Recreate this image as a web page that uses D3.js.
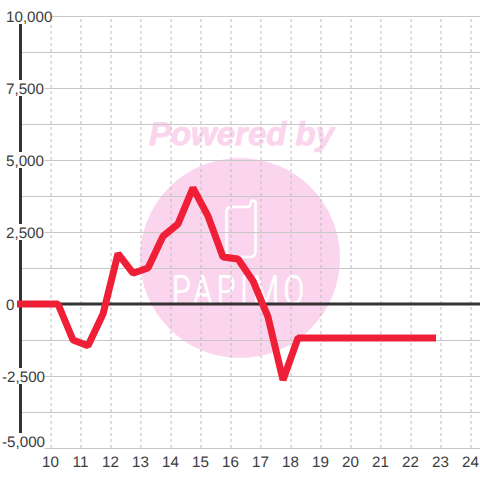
<!DOCTYPE html>
<html>
<head>
<meta charset="utf-8">
<script src="https://cdn.jsdelivr.net/npm/d3@7"></script>
<style>
  html, body { margin: 0; padding: 0; background: #fff; }
  svg { display: block; font-family: "Liberation Sans", sans-serif; text-rendering: geometricPrecision; }
  .grid line { stroke: #c8c8c8; stroke-width: 1.2; }
  .grid path { display: none; }
  .vgrid line { stroke: #bdbdbd; stroke-width: 1; stroke-dasharray: 3 3; }
  .vgrid path { display: none; }
</style>
</head>
<body>
<svg width="480" height="480"></svg>
<script>
var hours = [8.75, 9.25, 9.75, 10.25, 10.75, 11.25, 11.75, 12.25, 12.75, 13.25, 13.75, 14.25, 14.75, 15.25, 15.75, 16.25, 16.75, 17.25, 17.75, 18.25, 18.75, 19.25, 19.75, 20.25, 20.75, 21.25, 21.75, 22.25, 22.85];
var values = [0, 0, 0, 0, -1250, -1450, -350, 1750, 1070, 1250, 2350, 2780, 4030, 3050, 1630, 1560, 800, -450, -2640, -1180, -1180, -1180, -1180, -1180, -1180, -1180, -1180, -1180, -1180];
var yLabels = [-5000, -2500, 0, 2500, 5000, 7500, 10000];
var yGrid = [-5000, -3750, -2500, -1250, 0, 1250, 2500, 3750, 5000, 6250, 7500, 8750, 10000];
var xLabels = [10, 11, 12, 13, 14, 15, 16, 17, 18, 19, 20, 21, 22, 23, 24];

var svg = d3.select("svg"),
    left = 20.5, top_ = 16, bottom = 448;

var x = d3.scaleLinear().domain([9, 25]).range([left, 500.5]);
var y = d3.scaleLinear().domain([-5000, 10000]).range([bottom, top_]);
var fmt = d3.format(",");

svg.append("clipPath").attr("id", "plot")
  .append("rect").attr("x", 17).attr("y", 0).attr("width", 480).attr("height", 480);

// watermark
var wm = svg.append("g");
var pink = "#fbd5ee";
wm.append("circle").attr("cx", 240).attr("cy", 258).attr("r", 100).attr("fill", pink);
wm.append("text").attr("x", 241.5).attr("y", 145).attr("text-anchor", "middle")
    .attr("font-size", 33).attr("font-weight", "bold").attr("font-style", "italic")
    .attr("fill", pink).attr("stroke", pink).attr("stroke-width", 0.8).text("Powered by");
wm.append("path") // phone
    .attr("d", "M231 207 H248 Q250 207 250.5 204 Q251 200.5 253 200.5 Q255.5 200.5 255.5 203 V251 Q255.5 257 250 257 H232 Q226.5 257 226.5 251 V212 Q226.5 207 231 207 Z")
    .attr("fill", "none").attr("stroke", "#fff").attr("stroke-width", 2.6);
wm.append("text")
    .attr("transform", "translate(172,304) scale(0.76,1)")
    .attr("font-family", "Roboto, sans-serif").attr("font-weight", 300)
    .attr("font-size", 40).attr("letter-spacing", 6)
    .attr("fill", "#fff").attr("stroke", "#fff").attr("stroke-width", 0.9)
    .text("PAPIMO");

// grid
svg.append("g").attr("class", "vgrid")
    .attr("transform", "translate(0," + bottom + ")")
    .call(d3.axisBottom(x).tickValues(xLabels).tickSize(top_ - bottom).tickFormat(""));
svg.append("g").attr("class", "grid")
    .attr("transform", "translate(480,0)")
    .call(d3.axisLeft(y).tickValues(yGrid).tickSize(480 - left).tickFormat(""));

// axis line and zero line
svg.append("line").attr("x1", left).attr("x2", left).attr("y1", top_).attr("y2", bottom)
    .attr("stroke", "#333").attr("stroke-width", 3);
svg.append("line").attr("x1", left).attr("x2", 480).attr("y1", y(0)).attr("y2", y(0))
    .attr("stroke", "#333").attr("stroke-width", 3);

// y labels, white box behind each one. bottom label sits higher so it stays on the page
var yl = svg.append("g").selectAll("g").data(yLabels).enter().append("g")
    .attr("transform", function(d) { return "translate(0," + (y(d) - (d === -5000 ? 7 : 0)) + ")"; });
yl.append("rect")
    .attr("x", 0).attr("y", -8)
    .attr("width", function(d) { return d === 10000 ? 52 : d === 0 ? 18 : 44.5; })
    .attr("height", function(d) { return d === -5000 ? 24 : 16; })
    .attr("fill", "#fff");
yl.append("text")
    .attr("x", function(d) { return d < 0 ? 2 : 6; })
    .attr("y", 5.5)
    .attr("font-size", 15.2).attr("fill", "#3c3c3c")
    .text(function(d) { return fmt(d).replace("\u2212", "-"); });

// x labels
svg.append("g").selectAll("text").data(xLabels).enter().append("text")
    .attr("x", function(d) { return x(d); })
    .attr("y", 466.5)
    .attr("text-anchor", "middle")
    .attr("font-size", 15.2).attr("fill", "#3c3c3c")
    .text(function(d) { return d; });

// series
var line = d3.line()
    .x(function(d, i) { return x(hours[i]); })
    .y(function(d) { return y(d); });
svg.append("path").datum(values)
    .attr("clip-path", "url(#plot)")
    .attr("d", line)
    .attr("fill", "none")
    .attr("stroke", "#f01f38")
    .attr("stroke-width", 7)
    .attr("stroke-linejoin", "bevel");
</script>
</body>
</html>
